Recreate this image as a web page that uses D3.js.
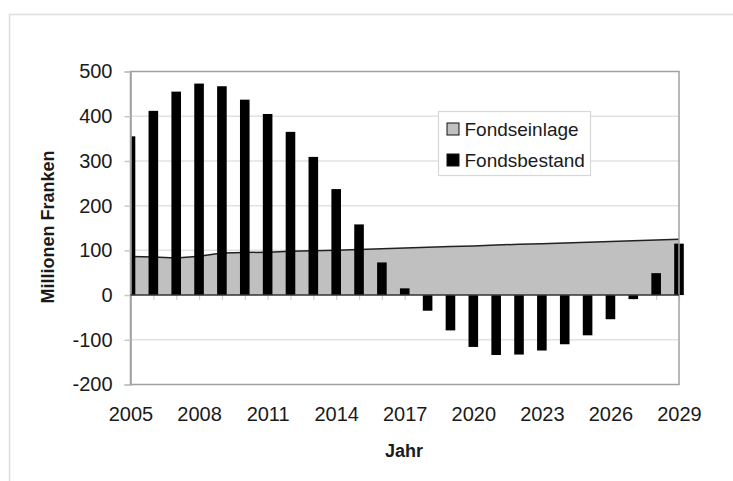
<!DOCTYPE html>
<html>
<head>
<meta charset="utf-8">
<script src="https://cdn.jsdelivr.net/npm/d3@7"></script>
<style>
  html, body { margin: 0; padding: 0; background: #fff; }
  svg { display: block; font-family: "Liberation Sans", Arial, sans-serif; }
</style>
</head>
<body>
<svg id="chart" width="733" height="481"></svg>
<script>
// Jahre (Kategorien)
const years = [2005, 2006, 2007, 2008, 2009, 2010, 2011, 2012, 2013, 2014, 2015, 2016,
               2017, 2018, 2019, 2020, 2021, 2022, 2023, 2024, 2025, 2026, 2027, 2028, 2029];
// Fondsbestand in Millionen Franken (Säulen)
const fondsbestand = [355, 412, 455, 473, 467, 437, 405, 365, 309, 237, 158, 73,
                      15, -35, -79, -116, -134, -133, -124, -110, -90, -54, -9, 49, 115];
// Fondseinlage in Millionen Franken (Fläche)
const fondseinlage = [86, 85, 83, 87, 94, 95, 96, 98, 99, 100, 102, 103.5,
                      105, 107, 108.5, 110, 112, 113.5, 115, 116.5, 118, 120, 121.5, 123, 125];
// Achsenbeschriftungen
const yTicks = [-200, -100, 0, 100, 200, 300, 400, 500];
const xTickLabels = [2005, 2008, 2011, 2014, 2017, 2020, 2023, 2026, 2029];
const seriesNames = ["Fondseinlage", "Fondsbestand"];

const svg = d3.select("#chart");
const plot = { left: 130.5, right: 679, top: 71.5, bottom: 384.5 };

const x = d3.scalePoint().domain(years).range([plot.left, plot.right]);
const y = d3.scaleLinear().domain([-200, 500]).range([plot.bottom, plot.top]);

// äusserer Rahmen
svg.append("rect")
  .attr("x", 9.5).attr("y", 14.5).attr("width", 740).attr("height", 480)
  .attr("fill", "none").attr("stroke", "#dcdcdc").attr("stroke-width", 1.5);

// Gitterlinien
svg.append("g")
  .selectAll("line")
  .data(yTicks.filter(v => v !== -200 && v !== 500 && v !== 0))
  .join("line")
  .attr("x1", plot.left).attr("x2", plot.right)
  .attr("y1", d => y(d)).attr("y2", d => y(d))
  .attr("stroke", "#e2e2e2").attr("stroke-width", 1.5);

// Fläche Fondseinlage
const area = d3.area()
  .x((d, i) => x(years[i]))
  .y0(y(0))
  .y1(d => y(d));
svg.append("path")
  .datum(fondseinlage)
  .attr("d", area)
  .attr("fill", "#c0c0c0");
svg.append("path")
  .datum(fondseinlage)
  .attr("d", d3.line().x((d, i) => x(years[i])).y(d => y(d)))
  .attr("fill", "none").attr("stroke", "#222").attr("stroke-width", 1.5);

// Teilstriche der Kategorienachse bei 0 (hinter den Säulen)
const xAxis0 = d3.axisBottom(x).tickSize(5).tickFormat("");
const gx0 = svg.append("g").attr("transform", `translate(0,${y(0)})`).call(xAxis0);
gx0.select(".domain").remove();
gx0.selectAll(".tick line").attr("stroke", "#d0d0d0").attr("stroke-width", 1.2);

// Säulen Fondsbestand
svg.append("clipPath").attr("id", "clipBars")
  .append("rect")
  .attr("x", plot.left).attr("y", 0)
  .attr("width", plot.right - plot.left + 10).attr("height", 481);

const barW = 9.6;
svg.append("g").attr("clip-path", "url(#clipBars)")
  .selectAll("rect")
  .data(fondsbestand)
  .join("rect")
  .attr("x", (d, i) => x(years[i]) - barW / 2)
  .attr("y", d => y(Math.max(0, d)))
  .attr("width", barW)
  .attr("height", d => Math.abs(y(d) - y(0)))
  .attr("fill", "#000");

// Plotrahmen
svg.append("rect")
  .attr("x", plot.left).attr("y", plot.top)
  .attr("width", plot.right - plot.left).attr("height", plot.bottom - plot.top)
  .attr("fill", "none").attr("stroke", "#a0a0a0").attr("stroke-width", 1.5);

// y-Achse mit Teilstrichen
const yAxis = d3.axisLeft(y).tickValues(yTicks).tickSize(6).tickPadding(12)
  .tickFormat(d3.format("d"));
const gy = svg.append("g").attr("transform", `translate(${plot.left},0)`).call(yAxis);
gy.select(".domain").attr("stroke", "#a0a0a0").attr("stroke-width", 1.5);
gy.selectAll(".tick line").attr("stroke", "#c8c8c8").attr("stroke-width", 1.5);
gy.selectAll(".tick text")
  .attr("font-size", 20).attr("fill", "#1a1a1a")
  .attr("font-family", "'Liberation Sans', Arial, sans-serif")
  .text(d => d < 0 ? "-" + Math.abs(d) : d);

// Nulllinie
svg.append("line")
  .attr("x1", plot.left).attr("x2", plot.right)
  .attr("y1", y(0)).attr("y2", y(0))
  .attr("stroke", "#333").attr("stroke-width", 1.5);

// Jahresbeschriftungen unten
const xAxisLabels = d3.axisBottom(x).tickValues(xTickLabels).tickSize(0).tickPadding(22);
const gx = svg.append("g").attr("transform", `translate(0,${plot.bottom})`).call(xAxisLabels);
gx.select(".domain").remove();
gx.selectAll(".tick text")
  .attr("font-size", 20).attr("fill", "#1a1a1a")
  .attr("font-family", "'Liberation Sans', Arial, sans-serif");

// Achsentitel
svg.append("text")
  .attr("x", 404).attr("y", 457)
  .attr("text-anchor", "middle")
  .attr("font-size", 18).attr("font-weight", "bold").attr("fill", "#1a1a1a")
  .text("Jahr");
svg.append("text")
  .attr("transform", "translate(54,227) rotate(-90)")
  .attr("text-anchor", "middle")
  .attr("font-size", 18).attr("font-weight", "bold").attr("fill", "#1a1a1a")
  .text("Millionen Franken");

// Legende
const legend = svg.append("g").attr("transform", "translate(438.5,111.5)");
legend.append("rect")
  .attr("width", 152).attr("height", 64)
  .attr("fill", "#fff").attr("stroke", "#d8d8d8").attr("stroke-width", 1.2);
const legendFill = ["#c0c0c0", "#000"];
seriesNames.forEach((name, i) => {
  const row = legend.append("g").attr("transform", `translate(0,${11 + i * 31})`);
  row.append("rect")
    .attr("x", 8.5).attr("y", 0.5).attr("width", 12).attr("height", 12)
    .attr("fill", legendFill[i]).attr("stroke", "#111").attr("stroke-width", 1);
  row.append("text")
    .attr("x", 26).attr("y", 13)
    .attr("font-size", 19).attr("fill", "#1a1a1a")
    .text(name);
});
</script>
</body>
</html>
